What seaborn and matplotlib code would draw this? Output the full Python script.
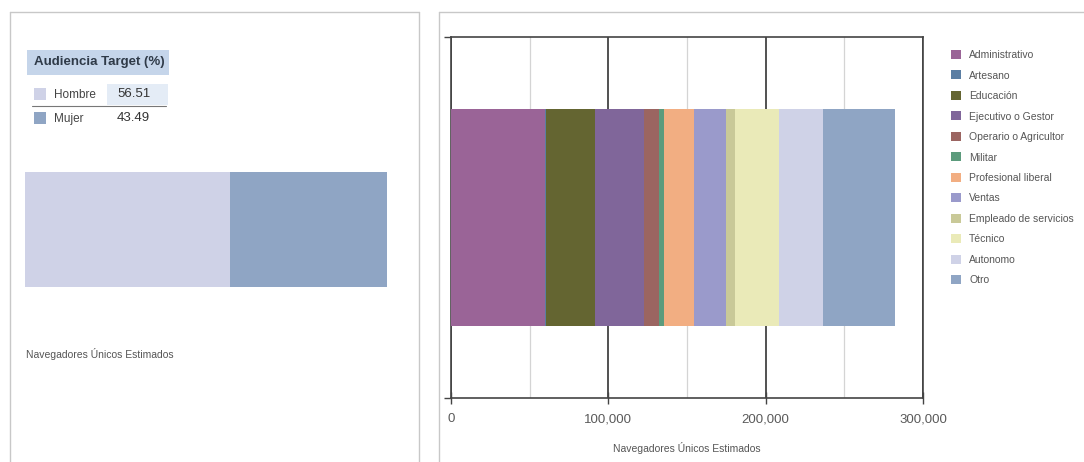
import numpy as np
import pandas as pd
import matplotlib
matplotlib.use("Agg")
import matplotlib.pyplot as plt
from matplotlib.patches import Patch, Rectangle
from matplotlib.lines import Line2D
from matplotlib.ticker import FuncFormatter, MultipleLocator
import seaborn as sns

# --- data -------------------------------------------------------------
gender_labels = ["Hombre", "Mujer"]
gender_pct = [56.51, 43.49]
gender_colors = ["#cfd2e7", "#8fa5c4"]

occupations = ["Administrativo", "Artesano", "Educación", "Ejecutivo o Gestor",
               "Operario o Agricultor", "Militar", "Profesional liberal", "Ventas",
               "Empleado de servicios", "Técnico", "Autonomo", "Otro"]
occupation_users = [60000, 400, 31200, 31300, 9600, 2800, 19200, 20500,
                    5700, 27700, 28200, 45500]
occupation_colors = ["#9a6497", "#5b7ea3", "#646531", "#80669a", "#9b6561",
                     "#5c9b7c", "#f2ae82", "#9a9acb", "#c9c998", "#eaeab8",
                     "#cfd2e7", "#8fa5c4"]

sns.set_theme(style="white")
plt.rcParams["font.family"] = ["Liberation Sans", "DejaVu Sans"]

W, H = 1084, 462
fig = plt.figure(figsize=(W / 100, H / 100), dpi=100)
fig.patch.set_facecolor("white")


def fx(px):
    return px / W


def fy(py):
    return 1 - py / H


# panel frames
frame_c = "#c8c8c8"
for xs, ys in [([10, 10], [12, 462]), ([10, 419], [12, 12]), ([419, 419], [12, 462]),
               ([439, 439], [12, 462]), ([439, 1084], [12, 12])]:
    fig.add_artist(Line2D([fx(v) for v in xs], [fy(v) for v in ys],
                          color=frame_c, lw=1.0))

# --- left panel: gender split -----------------------------------------
axl = fig.add_axes([fx(25), fy(287), fx(387) - fx(25), fy(172) - fy(287)])
gender_cum = np.cumsum(gender_pct)
for i in reversed(range(len(gender_labels))):
    sns.barplot(x=[gender_cum[i]], y=["g"], color=gender_colors[i],
                width=1.0, saturation=1, orient="h", ax=axl,
                linewidth=0, edgecolor="none")
axl.set_xlim(0, 100)
axl.set_ylim(0.5, -0.5)
axl.axis("off")

# header of the summary table
fig.add_artist(Rectangle((fx(27), fy(75)), fx(169) - fx(27), fy(50) - fy(75),
                         transform=fig.transFigure, color="#c5d5ea", lw=0))
fig.text(fx(34), fy(62.5), "Audiencia Target (%)", fontsize=9.5, fontweight="bold",
         color="#2f3a48", va="center", ha="left")
fig.add_artist(Rectangle((fx(107), fy(105)), fx(168) - fx(107), fy(84) - fy(105),
                         transform=fig.transFigure, color="#e4ecf6", lw=0))
fig.add_artist(Line2D([fx(32), fx(166)], [fy(106), fy(106)], color="#777777", lw=0.8))
row_y = [94, 118]
for lab, val, col, yy in zip(gender_labels, gender_pct, gender_colors, row_y):
    fig.add_artist(Rectangle((fx(34), fy(yy + 6)), fx(12), fy(0) - fy(12),
                             transform=fig.transFigure, color=col, lw=0))
    fig.text(fx(54), fy(yy + 1), lab, fontsize=8.5, color="#444444", va="center",
             ha="left")
    fig.text(fx(117), fy(yy), f"{val:.2f}", fontsize=9.5, color="#333333",
             va="center", ha="left")

fig.text(fx(26), fy(354), "Navegadores Únicos Estimados", fontsize=7.5,
         color="#555555", va="center", ha="left")

# --- right panel: occupations stacked bar -----------------------------
axr = fig.add_axes([fx(451), fy(398), fx(923) - fx(451), fy(37) - fy(398)])
cum = np.cumsum(occupation_users)
for i in reversed(range(len(occupations))):
    sns.barplot(x=[cum[i]], y=["Ocupación"], color=occupation_colors[i],
                width=0.6, saturation=1, orient="h", ax=axr, zorder=3,
                linewidth=0, edgecolor="none")
axr.set_xlim(0, 300000)
axr.set_ylim(0.5, -0.5)
axr.xaxis.set_major_locator(MultipleLocator(100000))
axr.xaxis.set_minor_locator(MultipleLocator(50000))
axr.xaxis.set_major_formatter(FuncFormatter(lambda v, p: f"{int(v):,}"))
axr.grid(which="major", axis="x", color="#333333", lw=1.2, zorder=0)
axr.grid(which="minor", axis="x", color="#d4d4d4", lw=0.9, zorder=0)
axr.set_axisbelow(True)
axr.set_yticks([0.5, -0.5])
axr.set_yticklabels(["", ""])
axr.tick_params(axis="y", which="major", length=5, width=1.0, color="#444444", left=True)
axr.tick_params(axis="x", which="major", direction="inout", length=8, width=1.0,
                color="#444444", bottom=True, labelsize=9.5, labelcolor="#5a5a5a", pad=7)
axr.tick_params(axis="x", which="minor", length=0)
for s in axr.spines.values():
    s.set_color("#444444")
    s.set_linewidth(1.2)
axr.set_ylabel("")
axr.set_xlabel("Navegadores Únicos Estimados", fontsize=7.5, color="#555555", labelpad=12)

handles = [Patch(facecolor=c, edgecolor="none") for c in occupation_colors]
fig.legend(handles, occupations, loc="upper left", bbox_to_anchor=(fx(951), fy(50)),
           frameon=False, fontsize=7.5, handlelength=0.95, handleheight=0.95,
           handletextpad=0.8, labelspacing=1.0, borderaxespad=0, borderpad=0,
           labelcolor="#555555")

fig.savefig("out.png", dpi=100, facecolor="white")
